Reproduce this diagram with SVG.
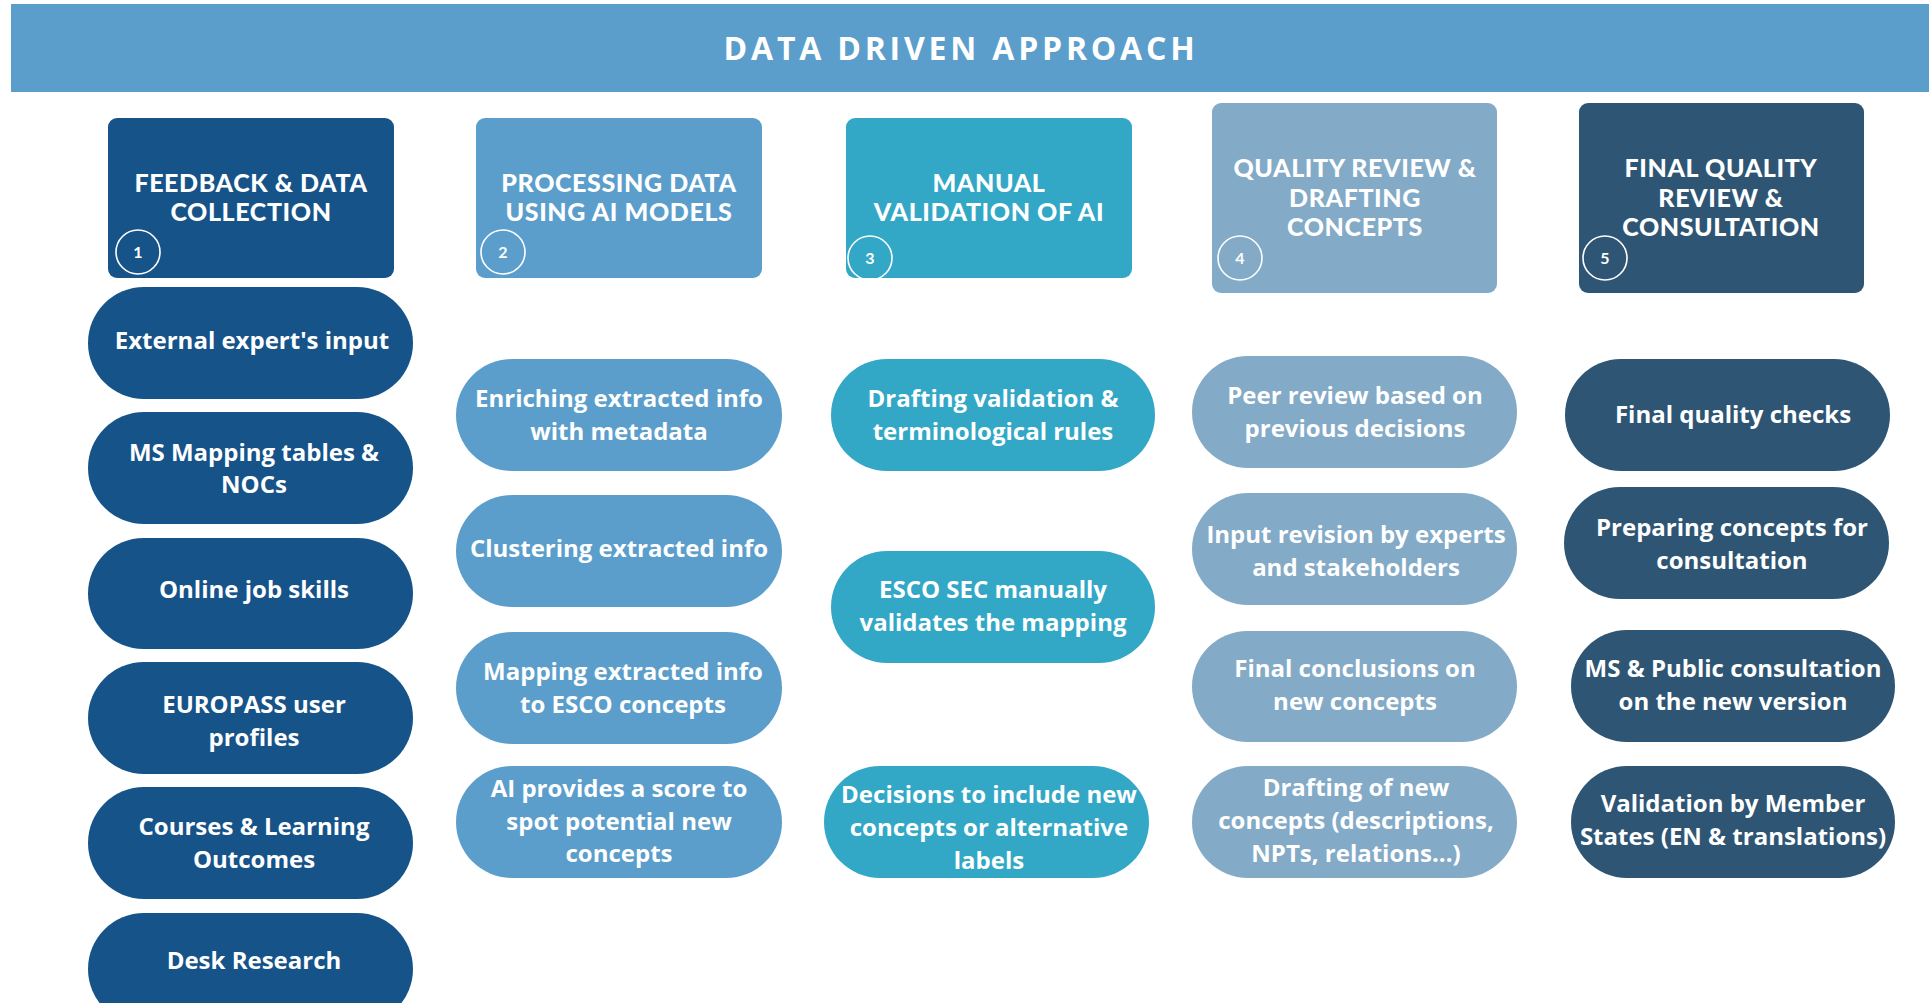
<svg xmlns="http://www.w3.org/2000/svg" width="1929" height="1003" viewBox="0 0 1929 1003">
<style>
.hd{font-family:Lato,"Open Sans","Liberation Sans",sans-serif;font-weight:900;font-size:25px;fill:#fff;text-anchor:middle;letter-spacing:0.6px}
.pt{font-family:"Open Sans","Liberation Sans",sans-serif;font-weight:700;font-size:24px;fill:#fff;text-anchor:middle}
.num{font-family:Lato,"Open Sans",sans-serif;font-weight:700;font-size:16px;fill:#fff;text-anchor:middle}
.ring{fill:none;stroke:#fff;stroke-width:1.6}
.c1{fill:#165389}.c2{fill:#5B9ECB}.c3{fill:#33A8C6}.c4{fill:#83AAC7}.c5{fill:#2E5574}
</style>
<rect x="0" y="0" width="1929" height="1003" fill="#fff"/>
<g id="banner">
<rect x="11" y="4" width="1918" height="88" fill="#5B9ECB"/>
<text x="961" y="60" font-family="'Open Sans','Liberation Sans',sans-serif" font-weight="700" font-size="32" fill="#fff" text-anchor="middle" letter-spacing="3.8">DATA DRIVEN APPROACH</text>
</g>
<g id="connectors"></g>

<g id="h1"><rect class="c1" x="108" y="118" width="286" height="160" rx="9"/><text class="hd" x="251" y="192">FEEDBACK &amp; DATA</text><text class="hd" x="251" y="221">COLLECTION</text><circle class="ring" cx="138" cy="252" r="22"/><text class="num" x="138" y="258">1</text></g>
<g id="h2"><rect class="c2" x="476" y="118" width="286" height="160" rx="9"/><text class="hd" x="619" y="192">PROCESSING DATA</text><text class="hd" x="619" y="221">USING AI MODELS</text><circle class="ring" cx="503" cy="252" r="22"/><text class="num" x="503" y="258">2</text></g>
<g id="h3"><rect class="c3" x="846" y="118" width="286" height="160" rx="9"/><text class="hd" x="989" y="192">MANUAL</text><text class="hd" x="989" y="221">VALIDATION OF AI</text><circle class="ring" cx="870" cy="258" r="22"/><text class="num" x="870" y="264">3</text></g>
<g id="h4"><rect class="c4" x="1212" y="103" width="285" height="190" rx="9"/><text class="hd" x="1355" y="177">QUALITY REVIEW &amp;</text><text class="hd" x="1355" y="207">DRAFTING</text><text class="hd" x="1355" y="236">CONCEPTS</text><circle class="ring" cx="1240" cy="258" r="22"/><text class="num" x="1240" y="264">4</text></g>
<g id="h5"><rect class="c5" x="1579" y="103" width="285" height="190" rx="9"/><text class="hd" x="1721" y="177">FINAL QUALITY</text><text class="hd" x="1721" y="207">REVIEW &amp;</text><text class="hd" x="1721" y="236">CONSULTATION</text><circle class="ring" cx="1605" cy="258" r="22"/><text class="num" x="1605" y="264">5</text></g>

<g id="n1a"><rect class="c1" x="88" y="287" width="325" height="112" rx="56"/><text class="pt" x="252" y="349">External expert's input</text></g>
<g id="n1b"><rect class="c1" x="88" y="412" width="325" height="112" rx="56"/><text class="pt" x="254" y="461">MS Mapping tables &amp;</text><text class="pt" x="254" y="493">NOCs</text></g>
<g id="n1c"><rect class="c1" x="88" y="538" width="325" height="111" rx="55.5"/><text class="pt" x="254" y="598">Online job skills</text></g>
<g id="n1d"><rect class="c1" x="88" y="662" width="325" height="112" rx="56"/><text class="pt" x="254" y="713">EUROPASS user</text><text class="pt" x="254" y="746">profiles</text></g>
<g id="n1e"><rect class="c1" x="88" y="787" width="325" height="112" rx="56"/><text class="pt" x="254" y="835">Courses &amp; Learning</text><text class="pt" x="254" y="868">Outcomes</text></g>
<g id="n1f"><rect class="c1" x="88" y="913" width="325" height="112" rx="56"/><text class="pt" x="254" y="969">Desk Research</text></g>

<g id="n2a"><rect class="c2" x="456" y="359" width="326" height="112" rx="56"/><text class="pt" x="619" y="407">Enriching extracted info</text><text class="pt" x="619" y="440">with metadata</text></g>
<g id="n2b"><rect class="c2" x="456" y="495" width="326" height="112" rx="56"/><text class="pt" x="619" y="557">Clustering extracted info</text></g>
<g id="n2c"><rect class="c2" x="456" y="632" width="326" height="112" rx="56"/><text class="pt" x="623" y="680">Mapping extracted info</text><text class="pt" x="623" y="713">to ESCO concepts</text></g>
<g id="n2d"><rect class="c2" x="456" y="766" width="326" height="112" rx="56"/><text class="pt" x="619" y="797">AI provides a score to</text><text class="pt" x="619" y="830">spot potential new</text><text class="pt" x="619" y="862">concepts</text></g>

<g id="n3a"><rect class="c3" x="831" y="359" width="324" height="112" rx="56"/><text class="pt" x="993" y="407">Drafting validation &amp;</text><text class="pt" x="993" y="440">terminological rules</text></g>
<g id="n3b"><rect class="c3" x="831" y="551" width="324" height="112" rx="56"/><text class="pt" x="993" y="598">ESCO SEC manually</text><text class="pt" x="993" y="631">validates the mapping</text></g>
<g id="n3c"><rect class="c3" x="824" y="766" width="325" height="112" rx="56"/><text class="pt" x="989" y="803">Decisions to include new</text><text class="pt" x="989" y="836">concepts or alternative</text><text class="pt" x="989" y="869">labels</text></g>

<g id="n4a"><rect class="c4" x="1192" y="356" width="325" height="112" rx="56"/><text class="pt" x="1355" y="404">Peer review based on</text><text class="pt" x="1355" y="437">previous decisions</text></g>
<g id="n4b"><rect class="c4" x="1192" y="493" width="325" height="112" rx="56"/><text class="pt" x="1356" y="543">Input revision by experts</text><text class="pt" x="1356" y="576">and stakeholders</text></g>
<g id="n4c"><rect class="c4" x="1192" y="631" width="325" height="111" rx="55.5"/><text class="pt" x="1355" y="677">Final conclusions on</text><text class="pt" x="1355" y="710">new concepts</text></g>
<g id="n4d"><rect class="c4" x="1192" y="766" width="325" height="112" rx="56"/><text class="pt" x="1356" y="796">Drafting of new</text><text class="pt" x="1356" y="829">concepts (descriptions,</text><text class="pt" x="1356" y="862">NPTs, relations...)</text></g>

<g id="n5a"><rect class="c5" x="1565" y="359" width="325" height="112" rx="56"/><text class="pt" x="1733" y="423">Final quality checks</text></g>
<g id="n5b"><rect class="c5" x="1564" y="487" width="325" height="112" rx="56"/><text class="pt" x="1732" y="536">Preparing concepts for</text><text class="pt" x="1732" y="569">consultation</text></g>
<g id="n5c"><rect class="c5" x="1571" y="630" width="324" height="112" rx="56"/><text class="pt" x="1733" y="677">MS &amp; Public consultation</text><text class="pt" x="1733" y="710">on the new version</text></g>
<g id="n5d"><rect class="c5" x="1571" y="766" width="324" height="112" rx="56"/><text class="pt" x="1733" y="812">Validation by Member</text><text class="pt" x="1733" y="845">States (EN &amp; translations)</text></g>
</svg>
